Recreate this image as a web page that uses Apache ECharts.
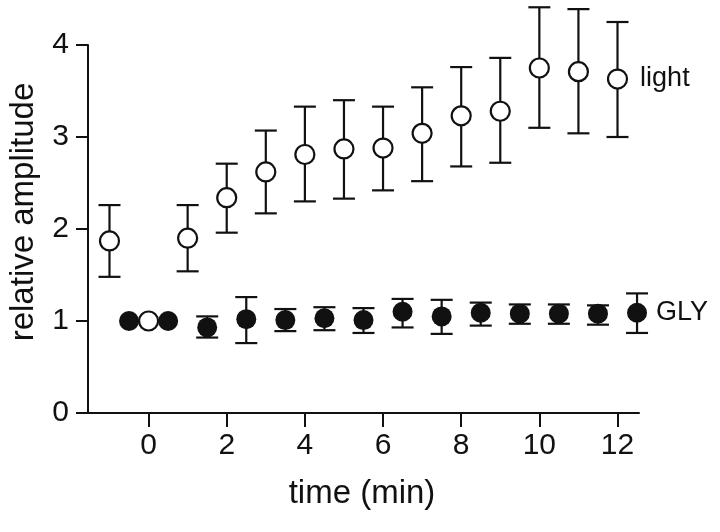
<!DOCTYPE html>
<html>
<head>
<meta charset="utf-8">
<script src="https://cdn.jsdelivr.net/npm/echarts@6/dist/echarts.min.js"></script>
<style>
  html, body { margin: 0; padding: 0; background: #fff; }
  #chart { width: 720px; height: 532px; }
</style>
</head>
<body>
<div id="chart"></div>
<script>
// light (open circles)
const lightX = [-1, 0, 1, 2, 3, 4, 5, 6, 7, 8, 9, 10, 11, 12];
const lightMean = [1.87, 1.0, 1.90, 2.34, 2.62, 2.81, 2.87, 2.88, 3.04, 3.23, 3.28, 3.75, 3.71, 3.63];
const lightLow = [1.48, null, 1.54, 1.96, 2.17, 2.30, 2.33, 2.42, 2.52, 2.68, 2.72, 3.10, 3.04, 3.00];
const lightHigh = [2.26, null, 2.26, 2.71, 3.07, 3.33, 3.40, 3.33, 3.54, 3.76, 3.86, 4.41, 4.39, 4.25];

// GLY (filled circles)
const glyX = [-0.5, 0.5, 1.5, 2.5, 3.5, 4.5, 5.5, 6.5, 7.5, 8.5, 9.5, 10.5, 11.5, 12.5];
const glyMean = [1.0, 1.0, 0.93, 1.02, 1.01, 1.03, 1.01, 1.10, 1.05, 1.09, 1.08, 1.08, 1.08, 1.09];
const glyLow = [null, null, 0.82, 0.76, 0.89, 0.90, 0.87, 0.93, 0.86, 0.95, 0.97, 0.97, 0.96, 0.87];
const glyHigh = [null, null, 1.05, 1.26, 1.13, 1.15, 1.14, 1.24, 1.23, 1.20, 1.18, 1.18, 1.17, 1.30];

const xTicks = [0, 2, 4, 6, 8, 10, 12];

const FONT = 'Liberation Sans';
const INK = '#111';

const chart = echarts.init(document.getElementById('chart'), null, { renderer: 'canvas' });

function points(xs, ys) {
  return xs.map((x, i) => [x, ys[i]]);
}

function bars(xs, lows, highs) {
  let out = [];
  for (let i = 0; i < xs.length; i++) {
    if (lows[i] != null) out.push([xs[i], lows[i], highs[i]]);
  }
  return out;
}

function renderBar(params, api) {
  const x = api.value(0);
  const lo = api.coord([x, api.value(1)]);
  const hi = api.coord([x, api.value(2)]);
  const half = 11;
  const style = { stroke: INK, lineWidth: 2.2 };
  return {
    type: 'group',
    children: [
      { type: 'line', shape: { x1: lo[0], y1: lo[1], x2: hi[0], y2: hi[1] }, style: style },
      { type: 'line', shape: { x1: hi[0] - half, y1: hi[1], x2: hi[0] + half, y2: hi[1] }, style: style },
      { type: 'line', shape: { x1: lo[0] - half, y1: lo[1], x2: lo[0] + half, y2: lo[1] }, style: style }
    ]
  };
}

function lastLabel(xs, ys, text, dist) {
  return points(xs, ys).map((p, i) => {
    if (i !== xs.length - 1) return p;
    return {
      value: p,
      label: {
        show: true, position: 'right', distance: dist, formatter: text,
        fontFamily: FONT, fontSize: 27, color: INK
      }
    };
  });
}

chart.setOption({
  backgroundColor: '#fff',
  animation: false,
  grid: { left: 88, right: 81, top: 45, bottom: 119 },
  xAxis: {
    type: 'value',
    min: -1.55,
    max: 12.55,
    splitLine: { show: false },
    axisLine: { onZero: false, lineStyle: { color: INK, width: 2 } },
    axisTick: { customValues: xTicks, length: 14, lineStyle: { color: INK, width: 2 } },
    axisLabel: { customValues: xTicks, margin: 18, fontFamily: FONT, fontSize: 30, color: INK }
  },
  yAxis: {
    type: 'value',
    min: 0,
    max: 4,
    interval: 1,
    splitLine: { show: false },
    axisLine: { show: true, onZero: false, lineStyle: { color: INK, width: 2 } },
    axisTick: { show: true, length: 12, lineStyle: { color: INK, width: 2 } },
    axisLabel: { margin: 19, fontFamily: FONT, fontSize: 30, color: INK }
  },
  graphic: [
    {
      type: 'text', x: 24, y: 212, rotation: Math.PI / 2,
      style: { text: 'relative amplitude', fontFamily: FONT, fontSize: 33, fill: INK, align: 'center', verticalAlign: 'middle' }
    },
    {
      type: 'text', x: 362, y: 494,
      style: { text: 'time (min)', fontFamily: FONT, fontSize: 33, fill: INK, align: 'center', verticalAlign: 'middle' }
    }
  ],
  series: [
    {
      type: 'custom',
      name: 'light bars',
      renderItem: renderBar,
      encode: { x: 0, y: [1, 2] },
      data: bars(lightX, lightLow, lightHigh),
      clip: false,
      z: 2
    },
    {
      type: 'custom',
      name: 'GLY bars',
      renderItem: renderBar,
      encode: { x: 0, y: [1, 2] },
      data: bars(glyX, glyLow, glyHigh),
      clip: false,
      z: 2
    },
    {
      type: 'scatter',
      name: 'GLY',
      symbol: 'circle',
      symbolSize: 20,
      itemStyle: { color: INK, opacity: 1 },
      data: lastLabel(glyX, glyMean, 'GLY', 9),
      z: 3
    },
    {
      type: 'scatter',
      name: 'light',
      symbol: 'circle',
      symbolSize: 19,
      itemStyle: { color: '#fff', borderColor: INK, borderWidth: 2.2, opacity: 1 },
      data: lastLabel(lightX, lightMean, 'light', 12),
      z: 4
    }
  ]
});
</script>
</body>
</html>
